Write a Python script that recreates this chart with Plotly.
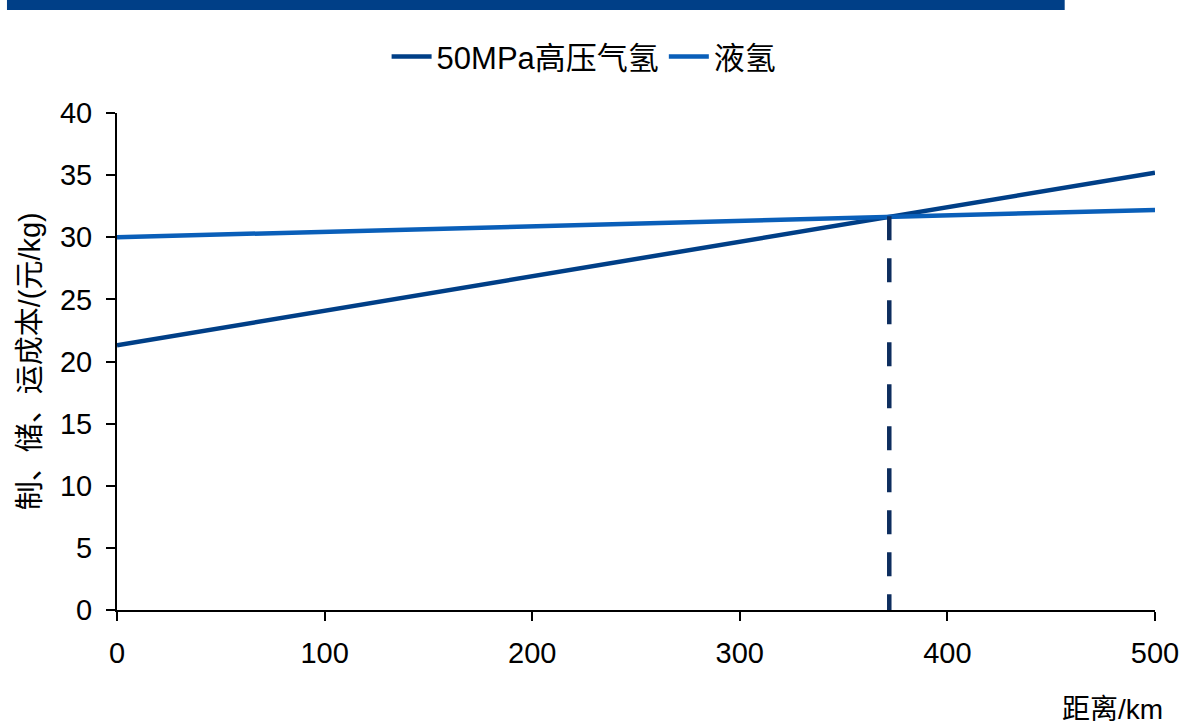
import plotly.graph_objects as go

# Hydrogen production + storage + transport cost versus distance
distance_km = [0, 500]
gas_50mpa_cost = [21.3, 35.2]
liquid_cost = [30.0, 32.2]
series_names = ["50MPa高压气氢", "液氢"]

# Break-even point where both routes cost the same (drawn top-down)
crossover_km = [372, 372]
crossover_cost = [31.7, 0]

x_ticks = [0, 100, 200, 300, 400, 500]
y_ticks = [0, 5, 10, 15, 20, 25, 30, 35, 40]

NAVY = "#003f87"
BLUE = "#0a5fb9"
LATIN = "Liberation Sans, Arial, sans-serif"
CJK = "Liberation Sans, Noto Sans CJK SC, sans-serif"

fig = go.Figure()
fig.add_trace(go.Scatter(
    x=distance_km, y=gas_50mpa_cost, mode="lines", name=series_names[0],
    line=dict(color=NAVY, width=4.5),
))
fig.add_trace(go.Scatter(
    x=distance_km, y=liquid_cost, mode="lines", name=series_names[1],
    line=dict(color=BLUE, width=4.5),
))
fig.add_trace(go.Scatter(
    x=crossover_km, y=crossover_cost, mode="lines", showlegend=False,
    line=dict(color="#0d2d5e", width=4.5, dash="24px,18px"),
))

fig.update_layout(
    width=1182, height=725,
    margin=dict(l=117, r=27, t=113, b=115, autoexpand=False),
    paper_bgcolor="white", plot_bgcolor="white",
    font=dict(family=CJK, size=29, color="#000000"),
    showlegend=True,
    legend=dict(
        orientation="h", x=0.45, xanchor="center", y=1.113, yanchor="middle",
        font=dict(family=CJK, size=31), itemwidth=40,
        bgcolor="rgba(0,0,0,0)",
    ),
    xaxis=dict(
        range=[0, 500], tickvals=x_ticks, showgrid=False, zeroline=False,
        showline=True, linecolor="black", linewidth=2,
        ticks="outside", ticklen=9, tickwidth=1.5, tickcolor="black",
        tickfont=dict(family=LATIN, size=29), ticklabelstandoff=7,
    ),
    yaxis=dict(
        range=[0, 40], tickvals=y_ticks, showgrid=False, zeroline=False,
        showline=True, linecolor="black", linewidth=2,
        ticks="outside", ticklen=9, tickwidth=1.5, tickcolor="black",
        tickfont=dict(family=LATIN, size=29), ticklabelstandoff=8,
    ),
    shapes=[dict(
        type="rect", xref="paper", yref="paper",
        x0=-0.106, x1=0.913, y0=1.2072, y1=1.235,
        fillcolor=NAVY, line=dict(width=0), layer="above",
    )],
    annotations=[
        dict(
            text="制、储、运成本/(元/kg)", textangle=-90,
            xref="paper", yref="paper", x=-0.084, y=0.5,
            xanchor="center", yanchor="middle", showarrow=False,
            font=dict(family=CJK, size=29),
        ),
        dict(
            text="距离/km", xref="paper", yref="paper",
            x=1.0096, y=-0.2, xanchor="right", yanchor="middle",
            showarrow=False, font=dict(family=CJK, size=28),
        ),
    ],
)

fig.write_html("out.html")
